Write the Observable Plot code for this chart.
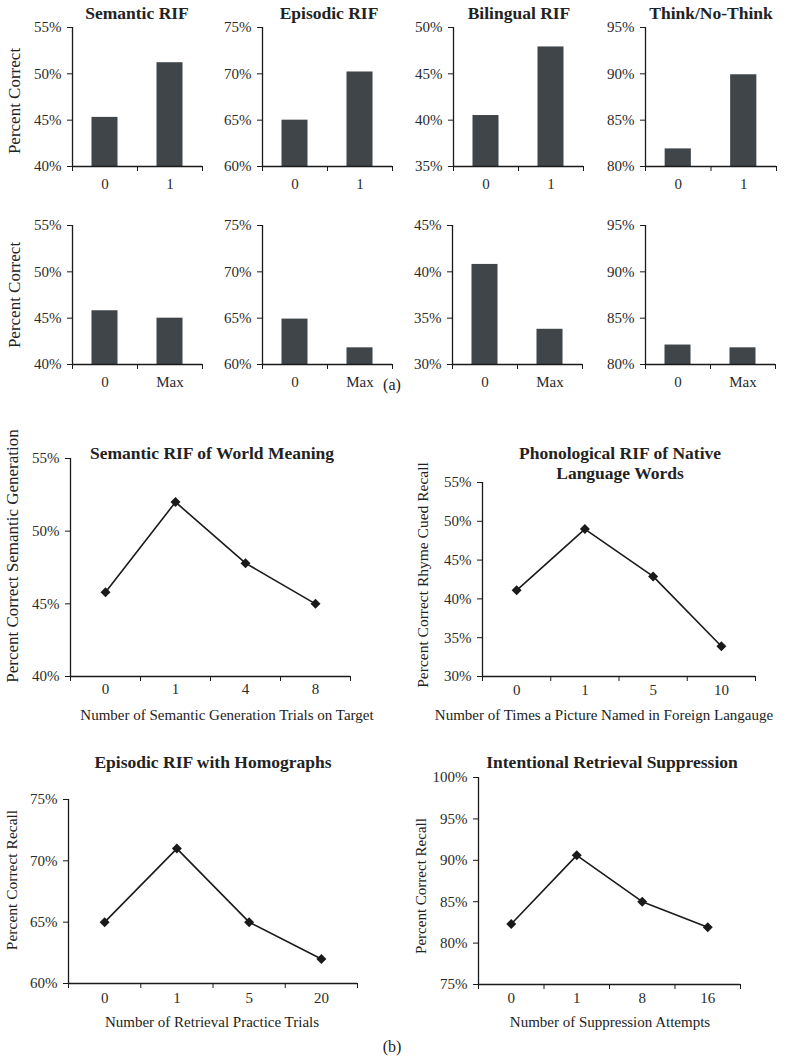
<!DOCTYPE html>
<html><head><meta charset="utf-8">
<script src="https://cdn.jsdelivr.net/npm/d3@7"></script>
<script src="https://cdn.jsdelivr.net/npm/@observablehq/plot@0.6"></script>
<style>
body{margin:0;background:#fff;}
#root{position:relative;width:785px;height:1063px;overflow:hidden;font-family:"Liberation Serif",serif;color:#222;}
.t{position:absolute;white-space:nowrap;transform:translate(-50%,-50%);line-height:1.15;text-align:center;}
.b{font-weight:bold;}
.r{transform:translate(-50%,-50%) rotate(-90deg);}
svg{position:absolute;}
</style></head><body><div id="root"></div>
<script>
// ---- (a) bar panels ----
const barTitles = ["Semantic RIF", "Episodic RIF", "Bilingual RIF", "Think/No-Think"];
const oneTrialCategories = ["0", "1"];
const maxCategories = ["0", "Max"];
const semanticRifOne = [45.3, 51.2];
const episodicRifOne = [65.0, 70.2];
const bilingualRifOne = [40.5, 47.9];
const thinkNoThinkOne = [81.9, 89.9];
const semanticRifMax = [45.8, 45.0];
const episodicRifMax = [64.9, 61.8];
const bilingualRifMax = [40.8, 33.8];
const thinkNoThinkMax = [82.1, 81.8];
const ticks40to55 = [40, 45, 50, 55];
const ticks60to75 = [60, 65, 70, 75];
const ticks35to50 = [35, 40, 45, 50];
const ticks30to45 = [30, 35, 40, 45];
const ticks80to95 = [80, 85, 90, 95];

// ---- (b) line panels ----
const semanticGenLabels = ["0", "1", "4", "8"];
const semanticGenValues = [45.8, 52.0, 47.8, 45.0];
const phonoLabels = ["0", "1", "5", "10"];
const phonoValues = [41.1, 49.0, 42.9, 33.9];
const homographLabels = ["0", "1", "5", "20"];
const homographValues = [65.0, 71.0, 65.0, 62.0];
const suppressionLabels = ["0", "1", "8", "16"];
const suppressionValues = [82.3, 90.6, 85.0, 81.9];
const ticks30to55 = [30, 35, 40, 45, 50, 55];
const ticks40to55b = [40, 45, 50, 55];
const ticks75to100 = [75, 80, 85, 90, 95, 100];

const root = document.getElementById("root");
const FONT = '"Liberation Serif", serif';
const INK = "#1a1a1a";

function panel({ax, top, w, h, ticks, cats, values, kind, labelGap}) {
  const mL = 50, mR = 8, mT = 8, mB = 32;
  const n = cats.length;
  const data = cats.map((c, i) => ({c, i, v: values[i]}));
  const y0 = ticks[0], y1 = ticks[ticks.length - 1];
  const bw = 0.4;
  const marks = [
    Plot.axisY({ticks, tickFormat: d => d + "%", tickSize: 5, tickPadding: 6, label: null, stroke: INK}),
    Plot.axisX({ticks: d3.range(n + 1), tickSize: 5, tickFormat: () => "", label: null, stroke: INK}),
    Plot.axisX({ticks: d3.range(n).map(i => i + 0.5), tickSize: 0, tickPadding: labelGap, tickFormat: t => cats[Math.floor(t)], label: null}),
  ];
  if (kind === "bar") {
    marks.push(Plot.rectY(data, {x1: d => d.i + 0.5 - bw / 2, x2: d => d.i + 0.5 + bw / 2, y1: y0, y2: "v", fill: "#3f4549"}));
  } else {
    marks.push(Plot.line(data, {x: d => d.i + 0.5, y: "v", stroke: INK, strokeWidth: 1.6}));
    marks.push(Plot.dot(data, {x: d => d.i + 0.5, y: "v", symbol: "diamond2", r: 4.5, fill: INK, stroke: "none"}));
  }
  marks.push(Plot.ruleX([0], {stroke: INK, strokeWidth: 1.3}));
  marks.push(Plot.ruleY([y0], {stroke: INK, strokeWidth: 1.3}));
  const svg = Plot.plot({
    width: w + mL + mR, height: h + mT + mB,
    marginLeft: mL, marginRight: mR, marginTop: mT, marginBottom: mB,
    x: {domain: [0, n]}, y: {domain: [y0, y1]},
    style: {fontFamily: FONT, fontSize: "15px", color: "#2a2a2a", background: "transparent", overflow: "visible"},
    marks
  });
  svg.style.left = (ax - mL) + "px";
  svg.style.top = (top - mT) + "px";
  root.appendChild(svg);
}

function text(str, x, y, size, cls) {
  const d = document.createElement("div");
  d.className = "t " + (cls || "");
  d.style.left = x + "px"; d.style.top = y + "px"; d.style.fontSize = size + "px";
  d.innerHTML = str;
  root.appendChild(d);
}

// Row 1 (a)
const rowTop1 = 27, rowH1 = 139;
panel({ax: 72, top: rowTop1, w: 130, h: rowH1, ticks: ticks40to55, cats: oneTrialCategories, values: semanticRifOne, kind: "bar", labelGap: 12});
panel({ax: 262, top: rowTop1, w: 130, h: rowH1, ticks: ticks60to75, cats: oneTrialCategories, values: episodicRifOne, kind: "bar", labelGap: 12});
panel({ax: 453, top: rowTop1, w: 130, h: rowH1, ticks: ticks35to50, cats: oneTrialCategories, values: bilingualRifOne, kind: "bar", labelGap: 12});
panel({ax: 645, top: rowTop1, w: 131, h: rowH1, ticks: ticks80to95, cats: oneTrialCategories, values: thinkNoThinkOne, kind: "bar", labelGap: 12});
// Row 2 (a)
const rowTop2 = 225, rowH2 = 139;
panel({ax: 72, top: rowTop2, w: 130, h: rowH2, ticks: ticks40to55, cats: maxCategories, values: semanticRifMax, kind: "bar", labelGap: 12});
panel({ax: 262, top: rowTop2, w: 130, h: rowH2, ticks: ticks60to75, cats: maxCategories, values: episodicRifMax, kind: "bar", labelGap: 12});
panel({ax: 452, top: rowTop2, w: 130, h: rowH2, ticks: ticks30to45, cats: maxCategories, values: bilingualRifMax, kind: "bar", labelGap: 12});
panel({ax: 645, top: rowTop2, w: 130, h: rowH2, ticks: ticks80to95, cats: maxCategories, values: thinkNoThinkMax, kind: "bar", labelGap: 12});

const titleX = [137, 329, 519, 711];
barTitles.forEach((t, i) => text(t, titleX[i], 13, 17.5, "b"));
text("Percent Correct", 15, 101, 17, "r");
text("Percent Correct", 15, 295, 17, "r");
text("(a)", 392, 385, 16);

// (b)
panel({ax: 70, top: 458, w: 280, h: 218, ticks: ticks40to55b, cats: semanticGenLabels, values: semanticGenValues, kind: "line", labelGap: 7});
panel({ax: 482, top: 482, w: 273, h: 194, ticks: ticks30to55, cats: phonoLabels, values: phonoValues, kind: "line", labelGap: 8});
panel({ax: 68, top: 799, w: 289, h: 184, ticks: ticks60to75, cats: homographLabels, values: homographValues, kind: "line", labelGap: 9});
panel({ax: 478, top: 777, w: 262, h: 207, ticks: ticks75to100, cats: suppressionLabels, values: suppressionValues, kind: "line", labelGap: 8});

text("Semantic RIF of World Meaning", 212, 453, 17.5, "b");
text("Phonological RIF of Native<br>Language Words", 620, 463, 17.5, "b");
text("Episodic RIF with Homographs", 213, 762, 17.5, "b");
text("Intentional Retrieval Suppression", 612, 762, 17.5, "b");

text("Percent Correct Semantic Generation", 13, 556, 17, "r");
text("Percent Correct Rhyme Cued Recall", 423, 575, 15.5, "r");
text("Percent Correct Recall", 12, 880, 15.5, "r");
text("Percent Correct Recall", 422, 886, 15, "r");

text("Number of Semantic Generation Trials on Target", 227, 716, 15, "");
text("Number of Times a Picture Named in Foreign Langauge", 604, 716, 15, "");
text("Number of Retrieval Practice Trials", 212, 1023, 15, "");
text("Number of Suppression Attempts", 610, 1023, 15, "");
text("(b)", 392, 1047, 16);
</script>
</body></html>
